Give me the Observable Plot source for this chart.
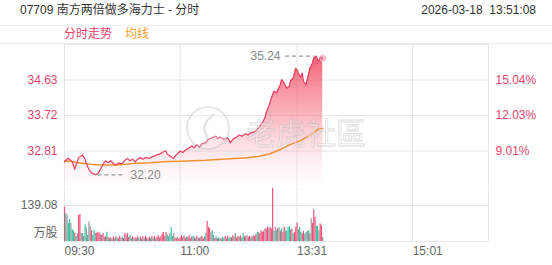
<!DOCTYPE html>
<html><head><meta charset="utf-8">
<script src="https://cdn.jsdelivr.net/npm/d3@7"></script>
<script src="https://cdn.jsdelivr.net/npm/@observablehq/plot@0.6"></script>
<style>
body{margin:0;background:#fff;font-family:"Liberation Sans",Arial,"Noto Sans CJK SC",sans-serif;}
#wrap{position:relative;width:552px;height:265px;overflow:hidden;background:#fff;}
.abs{position:absolute;white-space:pre;line-height:14px;font-size:12px;}
#band{position:absolute;left:0;top:25px;width:552px;height:17px;border-top:1px solid #f0f0f0;border-bottom:1px solid #ececec;}
#price,#vol{position:absolute;left:0;}
#price{top:40px;} #vol{top:186px;}
#wm{position:absolute;left:0;top:0;pointer-events:none;}
</style></head><body><div id="wrap">
<div class="abs" style="left:20px;top:3px;color:#333">07709 南方两倍做多海力士 - 分时</div>
<div class="abs" style="right:16px;top:3px;color:#333">2026-03-18  13:51:08</div>
<div id="band"></div>
<div class="abs" style="left:64px;top:27px;color:#e8426a">分时走势</div>
<div class="abs" style="left:125px;top:27px;color:#f5a030">均线</div>
<div id="vol"></div>
<div id="price"></div>
<svg id="wm" width="552" height="265">
  <circle cx="208" cy="128" r="21" fill="rgba(255,255,255,0.25)" stroke="rgba(170,170,170,0.35)" stroke-width="1.6"/>
  <path d="M214 114 Q200 125 206 134 Q210 142 200 146" fill="none" stroke="rgba(170,170,170,0.35)" stroke-width="2"/>
  <text x="246" y="144" font-size="30" font-family="Noto Sans CJK SC" fill="rgba(255,255,255,0.35)" stroke="rgba(165,165,165,0.4)" stroke-width="0.8">老虎社區</text>
</svg>
</div>
<script>
// ---- data ----
const sessionMinutes = 330; // 09:30-12:00, 13:00-16:00
const timeTicks = [0, 90, 181, 271];
const timeLabels = ["09:30", "11:00", "13:31", "15:01"];
const priceTicks = [32.81, 33.72, 34.63];
const pctLabels = ["9.01%", "12.03%", "15.04%"];
const priceDomain = [31.90, 35.54];
const volTick = 139.08;
const volMax = 208.62;
const volUnit = "万股";

const priceMinutes = [0,2,3,6,8,9,11,14,16,17,19,21,22,24,26,28,30,32,34,36,38,40,42,45,47,49,51,53,55,57,59,61,63,66,68,70,72,74,77,79,80,82,85,86,88,90,92,94,97,99,101,103,105,107,110,112,115,118,119,121,124,127,129,131,134,136,138,141,143,145,148,150,152,154,156,157,159,162,163,165,168,169,171,173,175,176,178,180,181,182,184,185,186,188,189,191,193,194,196,197,198,199,200,201];
const prices = [32.53,32.61,32.62,32.54,32.34,32.45,32.64,32.71,32.60,32.49,32.34,32.25,32.23,32.20,32.23,32.34,32.47,32.56,32.51,32.56,32.49,32.45,32.50,32.49,32.57,32.62,32.56,32.60,32.53,32.60,32.64,32.60,32.64,32.62,32.66,32.68,32.71,32.73,32.79,32.81,32.73,32.68,32.62,32.68,32.74,32.81,32.77,32.83,32.89,32.94,32.89,32.98,32.91,33.00,33.02,33.11,33.15,33.19,33.13,33.17,33.11,33.15,33.02,33.11,33.17,33.22,33.19,33.25,33.22,33.28,33.30,33.36,33.45,33.53,33.66,33.79,33.96,34.26,34.34,34.30,34.51,34.64,34.55,34.42,34.47,34.61,34.68,34.93,34.89,34.81,34.70,34.81,34.59,34.51,34.64,34.93,35.06,35.19,35.24,35.15,35.12,35.21,35.22,35.19];

const avgMinutes = [0,5,10,20,28,41,54,67,80,90,110,129,142,151,156,160,168,176,184,190,197,201];
const avgPrices = [32.56,32.54,32.51,32.47,32.45,32.45,32.49,32.51,32.54,32.55,32.57,32.61,32.64,32.67,32.71,32.74,32.85,32.98,33.08,33.19,33.36,33.39];

const volumes = [
133,108,100,70,85,70,46,40,32,20,
30,100,104,31,31,19,64,53,23,75,
58,42,23,42,32,32,36,32,27,23,
31,15,19,36,15,12,14,10,16,12,
18,14,10,20,12,16,12,31,22,31,
15,23,12,18,10,14,12,20,12,16,
10,18,12,20,14,10,16,12,18,14,
20,12,16,22,14,18,28,35,20,35,
25,18,30,54,20,31,14,12,16,10,
14,23,15,20,12,18,15,22,12,16,
20,14,10,18,14,12,16,20,12,18,
30,77,55,50,35,42,23,12,18,10,
14,12,10,16,12,18,14,20,12,16,
14,22,18,31,14,20,16,22,14,31,
18,20,23,16,20,14,18,22,20,26,
35,35,30,42,35,40,49,46,55,50,
55,48,205,40,55,42,49,53,40,49,
35,55,42,40,53,58,44,49,30,35,
55,71,45,55,35,30,40,28,35,40,
42,30,88,70,122,94,60,58,42,68,
61,15];
const volDirs = ("udfddfddud"+"fuufdudfdf"+"fuddfuuufu"+"ufudufuduf"+"uduufduufu"+
  "udfudufudu"+"fuduufuduf"+"uduufuuufu"+"ddfddfuufu"+"uufuuduufu"+
  "dufudufuuf"+"duuufdfudu"+"fduddufudd"+"uuffuufudd"+"uffuudufuu"+
  "dfuuuufuuf"+"uuudfdufud"+"uufdddufdu"+"uufdduufdf"+"dufuuuddfu"+"uf").split("");

// ---- build ----
const font = '"Liberation Sans", Arial, "Noto Sans CJK SC", sans-serif';
const gridC = "#e6e6e6";
const priceData = priceMinutes.map((m, i) => ({m, p: prices[i]}));
const avgData = avgMinutes.map((m, i) => ({m, p: avgPrices[i]}));
const maxPt = priceData.reduce((a, b) => b.p > a.p ? b : a);
const minPt = priceData.reduce((a, b) => b.p < a.p ? b : a);
const lastPt = priceData[priceData.length - 1];
const volData = volumes.map((v, i) => ({m: i, v, dir: volDirs[i]}));

const defs = () => {
  const ns = "http://www.w3.org/2000/svg";
  const d = document.createElementNS(ns, "defs");
  const g = document.createElementNS(ns, "linearGradient");
  g.setAttribute("id", "pg"); g.setAttribute("x1", "0"); g.setAttribute("y1", "0");
  g.setAttribute("x2", "0"); g.setAttribute("y2", "1");
  [[0, "rgb(243,70,92)", 0.85], [0.45, "rgb(247,120,135)", 0.55], [1, "rgb(255,215,222)", 0.05]].forEach(([o, c, a]) => {
    const s = document.createElementNS(ns, "stop");
    s.setAttribute("offset", o); s.setAttribute("stop-color", c); s.setAttribute("stop-opacity", a);
    g.appendChild(s);
  });
  d.appendChild(g);
  return d;
};

const pricePlot = Plot.plot({
  width: 552, height: 150, marginTop: 4, marginBottom: 4, marginLeft: 64, marginRight: 64,
  style: {background: "transparent", fontSize: "12px", fontFamily: font},
  x: {domain: [0, sessionMinutes], axis: null},
  y: {domain: priceDomain, axis: null, label: null},
  marks: [
    defs,
    Plot.gridY(priceTicks, {stroke: gridC, strokeOpacity: 1}),
    Plot.gridX([...timeTicks, sessionMinutes], {stroke: gridC, strokeOpacity: 1}),
    Plot.ruleY([priceDomain[1]], {stroke: gridC}),
    Plot.areaY(priceData, {x: "m", y1: priceDomain[0], y2: "p", fill: "url(#pg)"}),
    Plot.line(avgData, {x: "m", y: "p", stroke: "#f39233", strokeWidth: 1.5}),
    Plot.line(priceData, {x: "m", y: "p", stroke: "#ea3f62", strokeWidth: 1.2}),
    Plot.ruleY([maxPt], {x1: d => d.m - 24, x2: d => d.m - 1, y: "p", stroke: "#999", strokeWidth: 1.3, strokeDasharray: "4,3"}),
    Plot.text([maxPt], {x: d => d.m - 24, y: "p", text: d => d.p.toFixed(2), textAnchor: "end", dx: -5, fill: "#888"}),
    Plot.ruleY([minPt], {x1: d => d.m + 2, x2: d => d.m + 22, y: "p", stroke: "#999", strokeWidth: 1.3, strokeDasharray: "4,3"}),
    Plot.text([minPt], {x: d => d.m + 22, y: "p", text: d => d.p.toFixed(2), textAnchor: "start", dx: 7, fill: "#888"}),
    Plot.dot([lastPt], {x: "m", y: "p", r: 3, fill: "#f48aa3", fillOpacity: 0.5, stroke: "#f7b5c5", strokeWidth: 1}),
    Plot.axisY(priceTicks, {anchor: "left", tickSize: 0, tickPadding: 7, tickFormat: d => d.toFixed(2), color: "#e4466a", label: null}),
    Plot.axisY(priceTicks, {anchor: "right", tickSize: 0, tickPadding: 7, tickFormat: d => pctLabels[priceTicks.indexOf(d)], color: "#e4466a", label: null})
  ]
});
document.getElementById("price").appendChild(pricePlot);

const volPlot = Plot.plot({
  width: 552, height: 79, marginTop: 1, marginBottom: 24, marginLeft: 64, marginRight: 64,
  style: {background: "transparent", fontSize: "12px", fontFamily: font},
  x: {domain: [0, sessionMinutes], axis: null},
  y: {domain: [0, volMax], axis: null, label: null},
  color: {domain: ["u", "d", "f"], range: ["#f2507a", "#34c4a4", "#999999"]},
  marks: [
    Plot.gridY([volTick], {stroke: gridC, strokeOpacity: 1}),
    Plot.gridX([...timeTicks, sessionMinutes], {stroke: gridC, strokeOpacity: 1}),
    Plot.ruleY([0], {stroke: gridC}),
    Plot.ruleX(volData, {x: "m", y1: 0, y2: "v", stroke: "dir", strokeWidth: 1.2}),
    Plot.axisY([volTick], {anchor: "left", tickSize: 0, tickPadding: 7, tickFormat: d => d.toFixed(2), color: "#666", label: null}),
    Plot.text([volUnit], {frameAnchor: "bottom-left", text: d => d, textAnchor: "end", dx: -7, dy: -5, fill: "#666"}),
    Plot.axisX(timeTicks, {anchor: "bottom", tickSize: 0, tickPadding: 5, tickFormat: d => timeLabels[timeTicks.indexOf(d)], textAnchor: "start", color: "#666", label: null})
  ]
});
document.getElementById("vol").appendChild(volPlot);
</script>
</body></html>
